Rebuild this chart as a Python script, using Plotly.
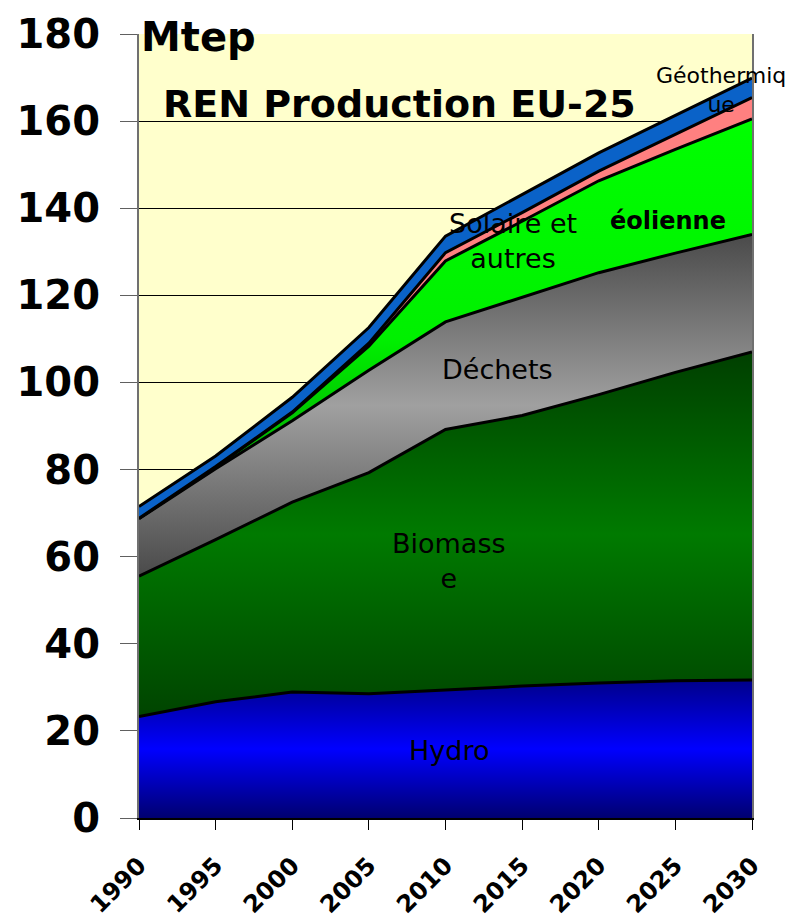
import plotly.graph_objects as go

# years on the x axis
annees = [1990, 1995, 2000, 2005, 2010, 2015, 2020, 2025, 2030]

# production per source (Mtep)
hydro = [23.3, 26.7, 28.9, 28.5, 29.4, 30.3, 31.0, 31.5, 31.7]
biomasse = [32.2, 37.2, 43.6, 50.8, 59.8, 62.1, 66.2, 70.8, 75.3]
dechets = [13.2, 16.3, 18.7, 23.5, 24.7, 27.1, 28.0, 27.4, 27.0]
eolienne = [0.1, 0.4, 1.8, 5.5, 14.0, 17.5, 21.1, 23.8, 26.5]
solaire = [0.0, 0.1, 0.2, 0.7, 1.9, 2.0, 2.2, 3.5, 4.9]
geothermie = [2.7, 2.4, 3.4, 3.6, 3.8, 4.1, 4.2, 4.3, 4.5]

y_ticks = [0, 20, 40, 60, 80, 100, 120, 140, 160, 180]

FONT = "DejaVu Sans"


def cumul(*series):
    return [round(sum(v), 2) for v in zip(*series)]


def add_area(fig, name, values, gradient=None, color=None):
    trace = dict(
        x=annees, y=values, name=name, mode="lines", stackgroup="ren",
        line=dict(color="black", width=3), hoverinfo="x+y+name",
    )
    if gradient is not None:
        trace["fillgradient"] = gradient
        trace["fillcolor"] = "rgba(0,0,0,0)"
    else:
        trace["fillcolor"] = color
    fig.add_trace(go.Scatter(**trace))


fig = go.Figure()

# bottom / top of each band, used to place the vertical gradients like Excel does
top_hydro = cumul(hydro)
top_bio = cumul(hydro, biomasse)
top_dech = cumul(hydro, biomasse, dechets)
top_eol = cumul(hydro, biomasse, dechets, eolienne)

add_area(fig, "Hydro", hydro, gradient=dict(
    type="vertical", start=0, stop=max(top_hydro),
    colorscale=[[0, "#000070"], [0.5, "#0000ff"], [1, "#00008a"]]))
add_area(fig, "Biomasse", biomasse, gradient=dict(
    type="vertical", start=min(hydro), stop=max(top_bio),
    colorscale=[[0, "#004400"], [0.5, "#007a00"], [1, "#003f00"]]))
add_area(fig, "Déchets", dechets, gradient=dict(
    type="vertical", start=min(top_bio), stop=max(top_dech),
    colorscale=[[0, "#4a4a4a"], [0.5, "#a0a0a0"], [1, "#4a4a4a"]]))
add_area(fig, "éolienne", eolienne, gradient=dict(
    type="vertical", start=min(top_dech), stop=max(top_eol),
    colorscale=[[0, "#009000"], [0.45, "#00f000"], [1, "#00ff00"]]))
add_area(fig, "Solaire et autres", solaire, color="#ff8080")
add_area(fig, "Géothermique", geothermie, color="#0a62c8")

# text labels sitting inside the bands
labels = [
    ("Mtep", 1990.0, 179.3, 40, True, "left"),
    ("REN Production EU-25", 2007.0, 163.9, 38, True, "center"),
    ("Hydro", 2010.2, 15.6, 27, False, "center"),
    ("Biomass<br>e", 2010.2, 58.9, 27, False, "center"),
    ("Déchets", 2013.4, 103.0, 27, False, "center"),
    ("Solaire et<br>autres", 2014.4, 132.4, 27, False, "center"),
    ("éolienne", 2024.5, 137.0, 24, True, "center"),
    ("Géothermiq<br>ue", 2028.0, 167.1, 22, False, "center"),
]
for text, x, y, size, bold, anchor in labels:
    fig.add_annotation(
        x=x, y=y, xref="x", yref="y", text=f"<b>{text}</b>" if bold else text,
        showarrow=False, xanchor=anchor, yanchor="middle", align="center",
        font=dict(family=FONT, size=size, color="black"),
    )

# the page body adds an 8px offset, margins compensate for it
fig.update_layout(
    width=793, height=920,
    margin=dict(l=131, r=49, t=26, b=110),
    paper_bgcolor="white", plot_bgcolor="#ffffcc",
    showlegend=False,
    font=dict(family=FONT, color="black"),
)
fig.update_xaxes(
    range=[1990, 2030], tickvals=annees, ticktext=[str(a) for a in annees],
    tickangle=-45, tickfont=dict(family=FONT, size=24, color="black", weight="bold"),
    ticks="outside", ticklen=10, tickcolor="black", tickwidth=1,
    ticklabelstandoff=12, automargin=False,
    showline=True, linecolor="black", linewidth=2, mirror=False,
    showgrid=False, zeroline=False,
)
fig.update_yaxes(
    range=[0, 180], tickvals=y_ticks,
    tickfont=dict(family=FONT, size=40, color="black", weight="bold"),
    ticks="outside", ticklen=17, tickcolor="#606060", tickwidth=1,
    ticklabelstandoff=12, automargin=False,
    showline=True, linecolor="#707070", linewidth=2, mirror=True,
    showgrid=True, gridcolor="black", gridwidth=1, zeroline=False,
)

fig.write_html("out.html")
